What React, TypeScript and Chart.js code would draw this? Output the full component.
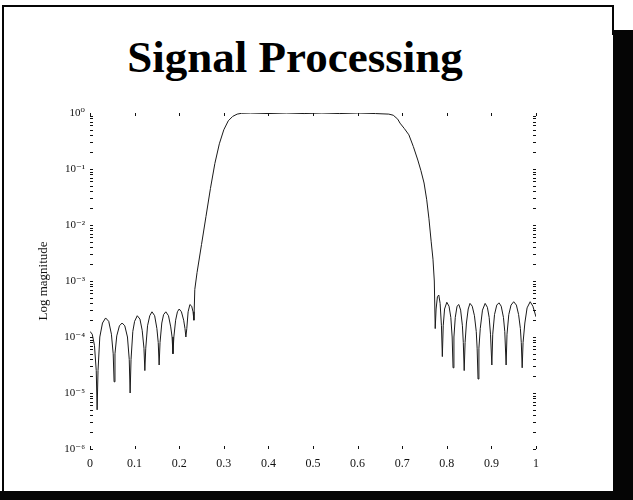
import React, { useEffect, useRef } from 'react';
import { Chart, registerables } from 'chart.js';

Chart.register(...registerables);

const TITLE = 'Signal Processing';
const Y_AXIS_TITLE = 'Log magnitude';
const X_TICK_LABELS = ['0', '0.1', '0.2', '0.3', '0.4', '0.5', '0.6', '0.7', '0.8', '0.9', '1'];
const Y_TICK_EXPONENTS = [-6, -5, -4, -3, -2, -1, 0];
const Y_TICK_LABELS = ['10⁻⁶', '10⁻⁵', '10⁻⁴', '10⁻³', '10⁻²', '10⁻¹', '10⁰'];

// normalised frequency
const FREQ = [
  0.000, 0.005, 0.010, 0.014, 0.016, 0.018, 0.022, 0.028, 0.035, 0.042, 0.048, 0.052, 0.054, 0.056,
  0.060, 0.066, 0.072, 0.078, 0.084, 0.088, 0.090, 0.092, 0.096, 0.100, 0.106, 0.112, 0.117, 0.121,
  0.123, 0.125, 0.129, 0.134, 0.139, 0.145, 0.150, 0.153, 0.155, 0.157, 0.161, 0.165, 0.170, 0.176,
  0.181, 0.184, 0.186, 0.188, 0.192, 0.196, 0.200, 0.205, 0.210, 0.213, 0.215, 0.217, 0.220, 0.224,
  0.228, 0.231, 0.233, 0.235, 0.240, 0.250, 0.260, 0.270, 0.280, 0.290, 0.300, 0.310, 0.320, 0.330,
  0.340, 0.360, 0.400, 0.440, 0.480, 0.520, 0.560, 0.600, 0.640, 0.670, 0.680, 0.690, 0.695, 0.705,
  0.715, 0.725, 0.735, 0.742, 0.749, 0.755, 0.760, 0.765, 0.769, 0.772, 0.774, 0.776, 0.779, 0.782,
  0.785, 0.788, 0.790, 0.792, 0.795, 0.800, 0.805, 0.809, 0.812, 0.814, 0.816, 0.819, 0.823, 0.827,
  0.831, 0.835, 0.837, 0.839, 0.841, 0.844, 0.848, 0.852, 0.857, 0.862, 0.866, 0.868, 0.870, 0.872,
  0.875, 0.880, 0.886, 0.891, 0.895, 0.898, 0.901, 0.903, 0.907, 0.912, 0.917, 0.922, 0.927, 0.930,
  0.933, 0.935, 0.939, 0.944, 0.950, 0.956, 0.961, 0.965, 0.967, 0.969, 0.971, 0.975, 0.980, 0.987,
  0.993, 1.000,
];

// log10 of the magnitude
const LOG_MAG = [
  -3.90, -3.95, -4.15, -4.60, -5.30, -4.60, -4.00, -3.75, -3.66, -3.72, -3.95, -4.30, -4.80, -4.30,
  -3.98, -3.80, -3.75, -3.80, -4.00, -4.40, -5.00, -4.40, -3.90, -3.72, -3.62, -3.68, -3.88, -4.20,
  -4.60, -4.20, -3.80, -3.62, -3.55, -3.62, -3.85, -4.10, -4.50, -4.10, -3.75, -3.60, -3.55, -3.62,
  -3.82, -4.00, -4.30, -4.00, -3.70, -3.55, -3.50, -3.55, -3.70, -3.85, -4.00, -3.85, -3.55, -3.42,
  -3.45, -3.55, -3.70, -3.15, -2.85, -2.35, -1.85, -1.35, -0.90, -0.55, -0.30, -0.14, -0.06, -0.02,
  -0.005, 0.000, -0.010, 0.000, -0.010, 0.000, -0.010, 0.000, -0.010, -0.020, -0.040, -0.110, -0.180, -0.280,
  -0.39, -0.60, -0.84, -1.03, -1.25, -1.55, -1.89, -2.30, -2.61, -3.00, -3.85, -3.50, -3.28, -3.25,
  -3.40, -3.80, -4.35, -3.80, -3.50, -3.38, -3.45, -3.65, -4.00, -4.55, -4.00, -3.65, -3.45, -3.42,
  -3.52, -3.80, -4.10, -4.60, -4.10, -3.75, -3.50, -3.40, -3.45, -3.62, -3.90, -4.20, -4.75, -4.20,
  -3.85, -3.52, -3.40, -3.47, -3.65, -3.95, -4.50, -3.95, -3.60, -3.43, -3.39, -3.45, -3.65, -3.90,
  -4.50, -3.95, -3.60, -3.43, -3.37, -3.43, -3.60, -3.85, -4.10, -4.55, -4.10, -3.75, -3.48, -3.37,
  -3.45, -3.64,
];

const SERIF = "'Liberation Serif', 'DejaVu Serif', serif";

const boxTicks = {
  id: 'boxTicks',
  afterDraw(chart: any) {
    const { ctx, chartArea: a, scales } = chart;
    const xs = scales.x;
    const ys = scales.y;
    ctx.save();
    ctx.strokeStyle = '#111';
    ctx.lineWidth = 1;
    ctx.beginPath();
    for (let i = 0; i < Y_TICK_EXPONENTS.length - 1; i++) {
      const e = Y_TICK_EXPONENTS[i];
      for (let k = 1; k < 10; k++) {
        const py = Math.round(ys.getPixelForValue(k * Math.pow(10, e))) + 0.5;
        ctx.moveTo(a.left, py);
        ctx.lineTo(a.left + 3, py);
        ctx.moveTo(a.right, py);
        ctx.lineTo(a.right - 3, py);
      }
    }
    X_TICK_LABELS.forEach((_, i) => {
      const px = Math.round(xs.getPixelForValue(i / 10)) + 0.5;
      ctx.moveTo(px, a.top);
      ctx.lineTo(px, a.top + 3);
      ctx.moveTo(px, a.bottom);
      ctx.lineTo(px, a.bottom - 3);
    });
    ctx.stroke();
    ctx.restore();
  },
};

export default function App() {
  const ref = useRef<HTMLCanvasElement>(null);

  useEffect(() => {
    if (!ref.current) return;
    const data = FREQ.map((x, i) => ({ x, y: Math.pow(10, LOG_MAG[i]) }));
    const chart = new Chart(ref.current, {
      type: 'line',
      data: {
        datasets: [
          {
            data,
            borderColor: '#1a1a1a',
            borderWidth: 1,
            pointRadius: 0,
            tension: 0,
            fill: false,
          },
        ],
      },
      options: {
        animation: false,
        responsive: false,
        parsing: false as any,
        layout: { padding: { left: 30, top: 113, right: 97, bottom: 21 } },
        plugins: {
          legend: { display: false },
          title: { display: false },
          tooltip: { enabled: false },
        },
        scales: {
          x: {
            type: 'linear',
            min: 0,
            max: 1,
            grid: { display: false, drawTicks: false },
            border: { display: false },
            ticks: {
              stepSize: 0.1,
              maxRotation: 0,
              padding: 8,
              color: '#111',
              font: { family: SERIF, size: 12 },
              callback: (_v: any, i: number) => X_TICK_LABELS[i],
            },
            afterFit: (s: any) => {
              s.height = 30;
              s.paddingLeft = 0;
              s.paddingRight = 0;
            },
          },
          y: {
            type: 'logarithmic',
            min: 1e-6,
            max: 1,
            grid: { display: false, drawTicks: false },
            border: { display: false },
            afterBuildTicks: (s: any) => {
              s.ticks = Y_TICK_EXPONENTS.map((e) => ({ value: Math.pow(10, e) }));
            },
            ticks: {
              padding: 5,
              color: '#111',
              font: { family: SERIF, size: 11 },
              callback: (_v: any, i: number) => Y_TICK_LABELS[i],
            },
            title: {
              display: true,
              text: Y_AXIS_TITLE,
              color: '#111',
              font: { family: SERIF, size: 13 },
              padding: { top: 6, bottom: 0 },
            },
            afterFit: (s: any) => {
              s.width = 60;
              s.paddingTop = 0;
              s.paddingBottom = 0;
            },
          },
        },
      },
      plugins: [boxTicks],
    });
    return () => chart.destroy();
  }, []);

  const black = '#050505';
  return (
    <div
      style={{
        position: 'fixed',
        left: 0,
        top: 0,
        width: 633,
        height: 500,
        background: '#ffffff',
        overflow: 'hidden',
      }}
    >
      <div style={{ position: 'absolute', left: 3, top: 5, width: 611, height: 2, background: black }} />
      <div style={{ position: 'absolute', left: 2, top: 5, width: 2, height: 495, background: black }} />
      <div style={{ position: 'absolute', left: 612, top: 5, width: 2, height: 30, background: black }} />
      <div style={{ position: 'absolute', left: 613, top: 30, width: 20, height: 470, background: black }} />
      <div style={{ position: 'absolute', left: 0, top: 491, width: 633, height: 9, background: black }} />
      <div
        style={{
          position: 'absolute',
          left: 0,
          top: 35,
          width: 590,
          textAlign: 'center',
          fontFamily: SERIF,
          fontWeight: 'bold',
          fontSize: 45,
          lineHeight: '45px',
          color: '#000',
          whiteSpace: 'nowrap',
        }}
      >
        {TITLE}
      </div>
      <canvas ref={ref} width={633} height={500} style={{ position: 'absolute', left: 0, top: 0 }} />
    </div>
  );
}
